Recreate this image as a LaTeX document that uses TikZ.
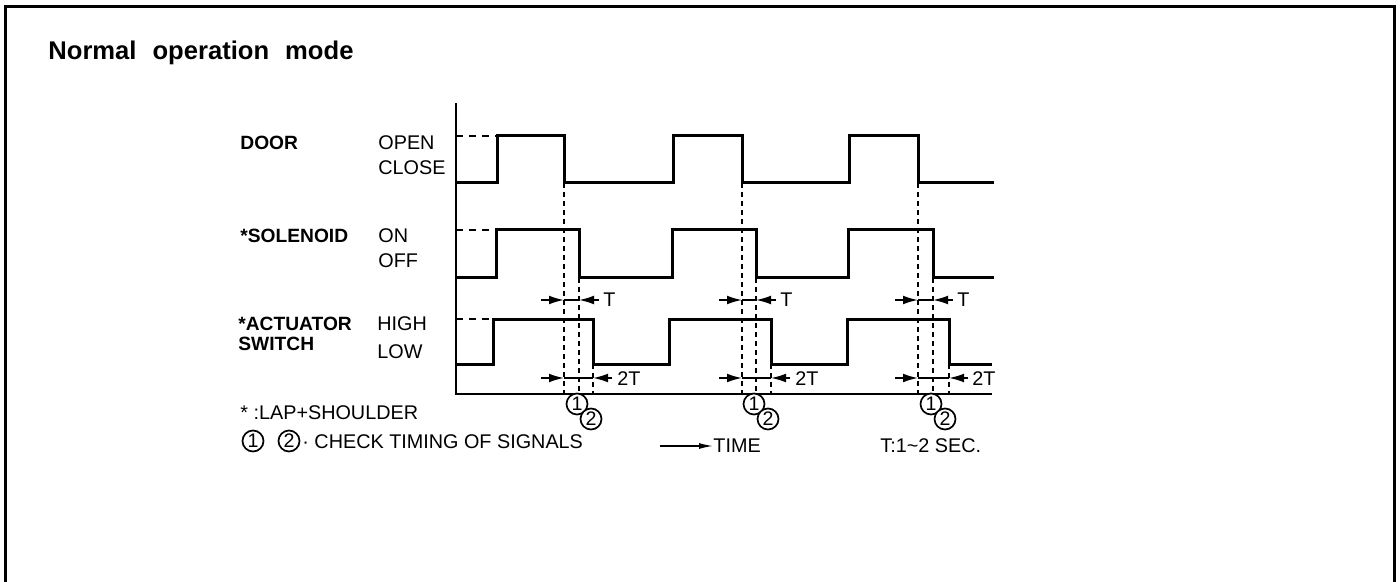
\documentclass[tikz,border=0pt]{standalone}
\usepackage{fontspec}
\setmainfont{Liberation Sans}
\usepackage{tikz}
\usetikzlibrary{arrows.meta,positioning}

\begin{document}
\begin{tikzpicture}[
  x=0.5pt,
  y=-0.5pt,
  font=\fontsize{9.9}{11}\selectfont,
  frame/.style={line width=1.75pt},
  axis/.style={line width=1.2pt},
  wave/.style={line width=1.5pt},
  pre/.style={line width=1pt, dash pattern=on 3.5pt off 3pt},
  guide/.style={line width=0.9pt, dash pattern=on 2.5pt off 2pt},
  bar/.style={line width=0.8pt},
  dim/.style={-{Latex[length=7.5pt,width=4.4pt]}, line width=0.8pt},
  tarrow/.style={-{Latex[length=7pt,width=3pt]}, line width=0.7pt},
  tag/.style={anchor=base west, inner sep=0pt},
  sig/.style={anchor=base west, inner sep=0pt, font=\fontsize{9.6}{11}\selectfont\bfseries},
  num/.style={circle, draw, fill=white, line width=0.85pt, inner sep=0pt,
    minimum size=10.5pt, font=\fontsize{9.8}{10}\selectfont}
]

\useasboundingbox (0,0) rectangle (1400,582);
\draw[frame] (5.5,582) -- (5.5,6.5) -- (1394.5,6.5) -- (1394.5,582);

\node[anchor=base west, inner sep=0pt, font=\fontsize{12.8}{14}\selectfont\bfseries]
  (title) at (48,60) {Normal\hspace{8pt}operation\hspace{8pt}mode};

\node[sig] (door) at (240,150) {DOOR};
\node[sig] (sol) at (240,243) {*SOLENOID};
\node[sig] (act) at (238,330) {*ACTUATOR};
\node[sig] (sw) at (238,350) {SWITCH};
\node[tag] (open) at (378,150) {OPEN};
\node[tag] (close) at (378,175) {CLOSE};
\node[tag] (on) at (378,243) {ON};
\node[tag] (off) at (378,268) {OFF};
\node[tag] (high) at (377,330) {HIGH};
\node[tag] (low) at (377,358) {LOW};

\draw[axis] (456,103) -- (456,394) -- (992,394);

\draw[pre] (456,136) -- (497,136);
\draw[pre] (456,230) -- (496,230);
\draw[pre] (456,319) -- (493,319);

\draw[wave] (456,183) -- (497,183) -- (497,136) -- (564,136) -- (564,183)
  -- (673,183) -- (673,136) -- (742,136) -- (742,183)
  -- (849,183) -- (849,136) -- (918,136) -- (918,183) -- (994,183);
\draw[wave] (456,278) -- (496,278) -- (496,230) -- (579,230) -- (579,278)
  -- (672,278) -- (672,230) -- (756,230) -- (756,278)
  -- (848,278) -- (848,230) -- (933,230) -- (933,278) -- (994,278);
\draw[wave] (456,364) -- (493,364) -- (493,319) -- (593,319) -- (593,364)
  -- (669,364) -- (669,319) -- (771,319) -- (771,364)
  -- (847,364) -- (847,319) -- (949,319) -- (949,364) -- (992,364);

\draw[guide] (564,183) -- (564,394);
\draw[guide] (579,278) -- (579,394);
\draw[guide] (593,364) -- (593,394);
\draw[bar] (564,300) -- (579,300) (541,300) edge[dim] (564,300) (599,300) edge[dim] (579,300);
\draw[bar] (564,378) -- (593,378) (541,378) edge[dim] (564,378) (612,378) edge[dim] (593,378);
\node[tag, anchor=west] (ta) at (603,300) {T};
\node[tag, anchor=west] (tta) at (617,379) {2T};
\node[num] (ca1) at (577,404) {1};
\node[num] (ca2) at (591,419) {2};

\draw[guide] (742,183) -- (742,394);
\draw[guide] (756,278) -- (756,394);
\draw[guide] (771,364) -- (771,394);
\draw[bar] (742,300) -- (756,300) (719,300) edge[dim] (742,300) (776,300) edge[dim] (756,300);
\draw[bar] (742,378) -- (771,378) (719,378) edge[dim] (742,378) (790,378) edge[dim] (771,378);
\node[tag, anchor=west] (tb) at (780,300) {T};
\node[tag, anchor=west] (ttb) at (795,379) {2T};
\node[num] (cb1) at (754,404) {1};
\node[num] (cb2) at (768,419) {2};

\draw[guide] (918,183) -- (918,394);
\draw[guide] (933,278) -- (933,394);
\draw[guide] (949,364) -- (949,394);
\draw[bar] (918,300) -- (933,300) (895,300) edge[dim] (918,300) (953,300) edge[dim] (933,300);
\draw[bar] (918,378) -- (949,378) (895,378) edge[dim] (918,378) (968,378) edge[dim] (949,378);
\node[tag, anchor=west] (tc) at (957,300) {T};
\node[tag, anchor=west] (ttc) at (972,379) {2T};
\node[num] (cc1) at (931,404) {1};
\node[num] (cc2) at (945,419) {2};

\node[tag] (lap) at (240,419) {* :LAP+SHOULDER};
\node[num] (leg1) at (253,441) {1};
\node[num] (leg2) at (289,441) {2};
\node[tag] (check) at (302,448) {·\ CHECK TIMING OF SIGNALS};
\coordinate (tstart) at (660,446);
\node[tag, anchor=west] (time) at (713,446) {TIME};
\draw[tarrow] (tstart) -- (time.west);
\node[tag] (period) at (880,452) {T:1\textasciitilde 2 SEC.};

\end{tikzpicture}
\end{document}
